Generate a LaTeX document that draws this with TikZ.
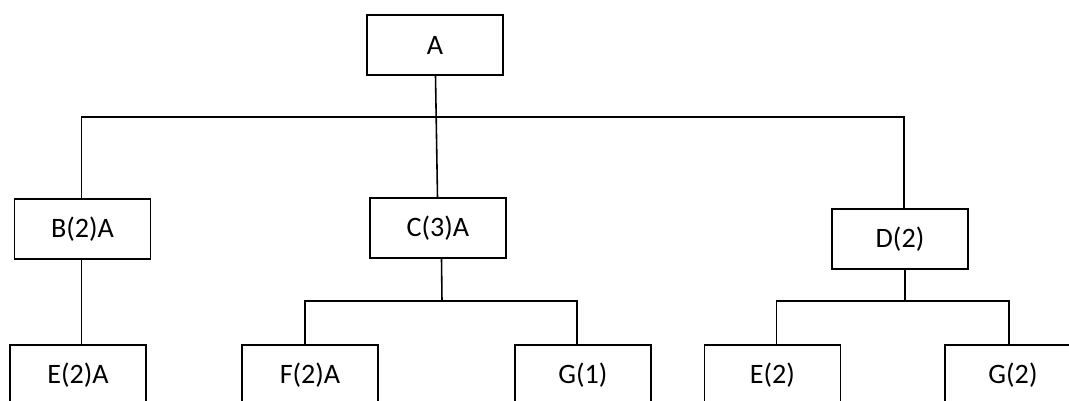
\documentclass[tikz,border=0pt]{standalone}
\usepackage{fontspec}
\setmainfont{Carlito}
\usepackage{tikz}
\usetikzlibrary{positioning, calc}

\begin{document}
\begin{tikzpicture}[
  x=0.02cm, y=-0.02cm,
  treebox/.style={draw, line width=1.1pt, minimum width=2.72cm, minimum height=1.2cm, inner sep=0pt, font=\fontsize{16}{19}\selectfont},
  link/.style={line width=0.9pt}
]
  \useasboundingbox (0,0) rectangle (1069,401);
  \clip (0,0) rectangle (1069,401);

  % top level
  \node[treebox] (a) at (435, 45) {A};

  % second level
  \node[treebox] (b) at (82.5, 229) {B(2)A};
  \node[treebox] (c) at (438, 228) {C(3)A};
  \node[treebox] (d) at (900, 239) {D(2)};

  % third level (cut by the page edge)
  \node[treebox] (e1) at (78, 375) {E(2)A};
  \node[treebox] (f) at (310, 375) {F(2)A};
  \node[treebox] (g1) at (583, 375) {G(1)};
  \node[treebox] (e2) at (772.5, 375) {E(2)};
  \node[treebox] (g2) at (1013, 375) {G(2)};

  % bus lines
  \coordinate (topbus) at (435, 117);
  \coordinate (cbus) at (442, 301);
  \coordinate (dbus) at (905, 301);

  \draw[link] (a) -- (c);
  \draw[link] ([xshift=-0.02cm]b.north) |- (topbus) -| ([xshift=0.08cm]d.north);
  \draw[link] ([xshift=-0.02cm]b.south) -- ([xshift=-0.02cm]b.south |- e1.north);

  \draw[link] ([xshift=0.07cm]c.south) -- (cbus);
  \draw[link] ([xshift=-0.1cm]f.north) |- (cbus) -| ([xshift=-0.12cm]g1.north);

  \draw[link] ([xshift=0.1cm]d.south) -- (dbus);
  \draw[link] ([xshift=0.08cm]e2.north) |- (dbus) -| ([xshift=-0.08cm]g2.north);
\end{tikzpicture}
\end{document}
